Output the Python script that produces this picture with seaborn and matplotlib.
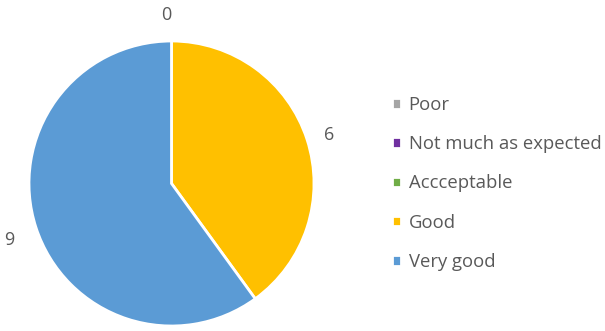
import matplotlib
matplotlib.use("Agg")
import matplotlib.pyplot as plt
import seaborn as sns

categories = ["Poor", "Not much as expected", "Accceptable", "Good", "Very good"]
counts = [0, 0, 0, 6, 9]
colors = ["#A5A5A5", "#7030A0", "#70AD47", "#FFC000", "#5B9BD5"]

sns.set_theme(style="white")
plt.rcParams["font.family"] = ["Open Sans", "DejaVu Sans"]
text_color = "#595959"

fig = plt.figure(figsize=(6.05, 3.31), dpi=100)
ax = fig.add_axes([29 / 605, 5 / 331, 285 / 605, 285 / 331])

wedges, texts = ax.pie(
    counts,
    labels=[str(c) for c in counts],
    colors=colors,
    startangle=90,
    counterclock=False,
    labeldistance=1.16,
    wedgeprops=dict(edgecolor="white", linewidth=2),
    textprops=dict(color=text_color, fontsize=13),
)
# the three zero slices share one spot at the top, show the label once
x0, y0 = texts[0].get_position()
texts[0].set_position((x0, y0 + 0.02))
texts[1].set_visible(False)
texts[2].set_visible(False)
texts[3].set_position((texts[3].get_position()[0] - 0.03, texts[3].get_position()[1] - 0.02))
texts[4].set_position((texts[4].get_position()[0], texts[4].get_position()[1] - 0.04))
ax.set_xlim(-1, 1)
ax.set_ylim(-1, 1)
ax.set_aspect("equal")
ax.axis("off")

leg = fig.legend(
    wedges, categories,
    loc="upper left", bbox_to_anchor=(392 / 605, 1 - 96 / 331),
    frameon=False, fontsize=13.3,
    borderpad=0, borderaxespad=0,
    handlelength=0.5, handleheight=0.5, handletextpad=0.4,
    labelspacing=1.15, labelcolor=text_color,
)

fig.savefig("out.png", dpi=100)
